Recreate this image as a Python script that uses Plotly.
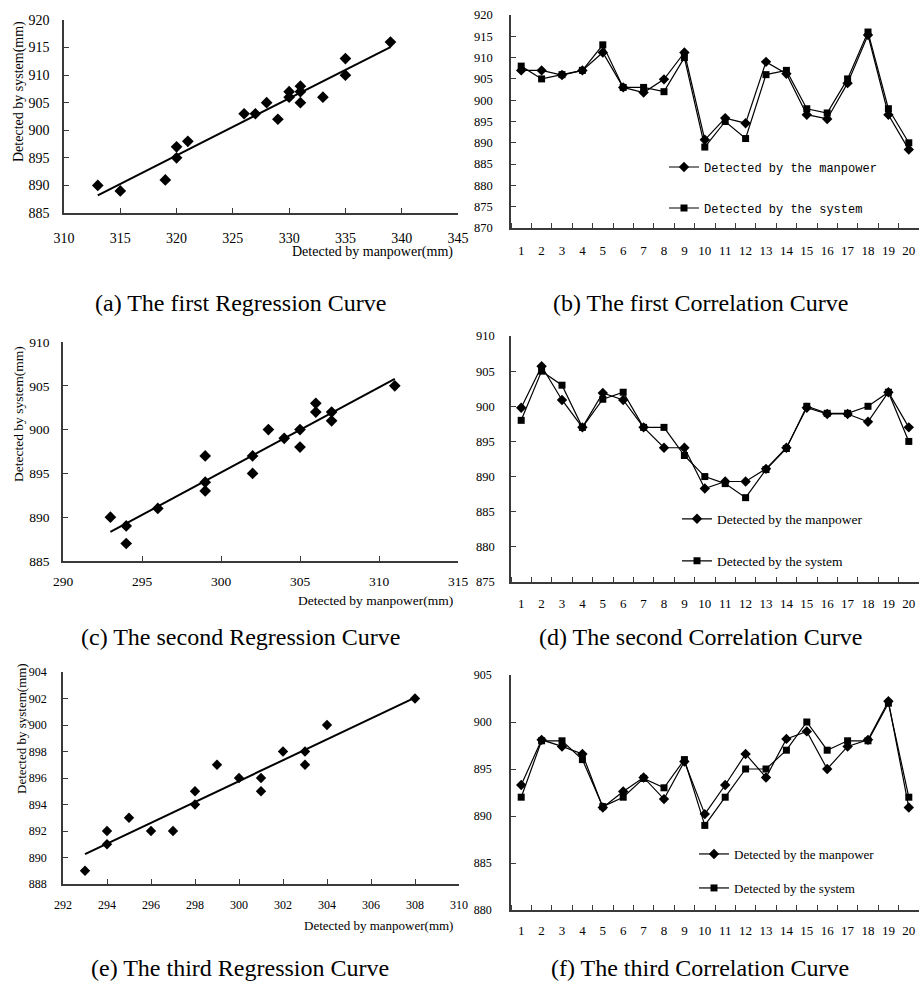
import numpy as np
import plotly.graph_objects as go

W, H = 919, 983
SERIF = "Liberation Serif"
MONO = "Liberation Mono"

# ---------------- data ----------------
categories = list(range(1, 21))

a_manpower = [313, 315, 319, 320, 320, 321, 326, 327, 328, 329, 330, 330, 331, 331, 331, 333, 335, 335, 339]
a_system = [890, 889, 891, 897, 895, 898, 903, 903, 905, 902, 907, 906, 908, 907, 905, 906, 913, 910, 916]

b_manpower = [907.0, 907.0, 905.9, 907.0, 911.2, 903.0, 901.8, 904.9, 911.2, 890.7,
              895.8, 894.6, 909.0, 906.2, 896.6, 895.6, 904.0, 915.3, 896.6, 888.4]
b_system = [908, 905, 906, 907, 913, 903, 903, 902, 910, 889,
            895, 891, 906, 907, 898, 897, 905, 916, 898, 890]

c_manpower = [293, 294, 294, 296, 299, 299, 299, 302, 302, 303, 304, 305, 305, 306, 306, 307, 307, 311]
c_system = [890, 889, 887, 891, 897, 894, 893, 897, 895, 900, 899, 900, 898, 903, 902, 902, 901, 905]

d_manpower = [899.8, 905.7, 900.9, 897.0, 901.9, 900.9, 897.0, 894.1, 894.1, 888.3,
              889.3, 889.3, 891.1, 894.1, 899.8, 898.9, 898.9, 897.8, 902.0, 897.0]
d_system = [898, 905, 903, 897, 901, 902, 897, 897, 893, 890,
            889, 887, 891, 894, 900, 899, 899, 900, 902, 895]

e_manpower = [293, 294, 294, 295, 296, 297, 298, 298, 299, 300, 301, 301, 302, 303, 303, 304, 308]
e_system = [889, 891, 892, 893, 892, 892, 894, 895, 897, 896, 896, 895, 898, 898, 897, 900, 902]

f_manpower = [893.3, 898.1, 897.4, 896.6, 890.9, 892.6, 894.1, 891.8, 895.8, 890.2,
              893.3, 896.6, 894.1, 898.2, 899.0, 895.0, 897.4, 898.1, 902.2, 890.9]
f_system = [892, 898, 898, 896, 891, 892, 894, 893, 896, 889,
            892, 895, 895, 897, 900, 897, 898, 898, 902, 892]

panel_titles = ["(a) The first Regression Curve", "(b) The first Correlation Curve",
                "(c) The second Regression Curve", "(d) The second Correlation Curve",
                "(e) The third Regression Curve", "(f) The third Correlation Curve"]
legend_names = ["Detected by the manpower", "Detected by the system"]
x_title = "Detected by manpower(mm)"
y_title = "Detected by system(mm)"

# ---------------- helpers ----------------
def xd(p0, p1):
    return [p0 / W, min(p1 / W, 1.0)]

def yd(top, bottom):
    return [1 - bottom / H, 1 - top / H]

def px(v):
    return v / W

def py(v):
    return 1 - v / H

AX = "#3a3a3a"
fig = go.Figure()

def regression(idx, xs, ys, msize=9):
    xa = "x" if idx == 1 else f"x{idx}"
    ya = "y" if idx == 1 else f"y{idx}"
    fig.add_trace(go.Scatter(x=xs, y=ys, mode="markers", xaxis=xa, yaxis=ya,
                             marker=dict(symbol="diamond", size=msize, color="black"),
                             showlegend=False, hoverinfo="x+y"))
    k, b = np.polyfit(xs, ys, 1)
    lx = [min(xs), max(xs)]
    fig.add_trace(go.Scatter(x=lx, y=[k * v + b for v in lx], mode="lines", xaxis=xa, yaxis=ya,
                             line=dict(color="black", width=2), showlegend=False, hoverinfo="skip"))

def correlation(idx, man, sysv, legs):
    xa = f"x{idx}"
    ya = f"y{idx}"
    fig.add_trace(go.Scatter(x=categories, y=man, mode="lines+markers", xaxis=xa, yaxis=ya,
                             name=legend_names[0], legend=legs[0],
                             line=dict(color="black", width=1.2),
                             marker=dict(symbol="diamond", size=8, color="black")))
    fig.add_trace(go.Scatter(x=categories, y=sysv, mode="lines+markers", xaxis=xa, yaxis=ya,
                             name=legend_names[1], legend=legs[1],
                             line=dict(color="black", width=1.2),
                             marker=dict(symbol="square", size=7, color="black")))

regression(1, a_manpower, a_system)
correlation(2, b_manpower, b_system, ["legend", "legend2"])
regression(3, c_manpower, c_system)
correlation(4, d_manpower, d_system, ["legend3", "legend4"])
regression(5, e_manpower, e_system, msize=8)
correlation(6, f_manpower, f_system, ["legend5", "legend6"])

def reg_axes(dx, dy, xr, yr, dtx, dty, fs, sx, sy, anchor_x, anchor_y):
    common = dict(showline=True, linecolor=AX, linewidth=1.5, ticks="inside", ticklen=5,
                  tickcolor=AX, tickwidth=1.2, showgrid=False, zeroline=False, automargin=False,
                  tickfont=dict(family=SERIF, size=fs, color="black"), fixedrange=True)
    xa = dict(domain=dx, range=xr, dtick=dtx, tick0=xr[0], anchor=anchor_y, ticklabelstandoff=sx, **common)
    ya = dict(domain=dy, range=yr, dtick=dty, tick0=yr[0], anchor=anchor_x, ticklabelstandoff=sy, **common)
    return xa, ya

def cor_axes(dx, dy, yr, dty, fsx, fsy, sx, sy, anchor_x, anchor_y):
    xa = dict(domain=dx, range=[0.5, 20.5], tickvals=categories, ticktext=[str(c) for c in categories],
              ticks="", anchor=anchor_y, showline=True, linecolor=AX, linewidth=1.5,
              showgrid=False, zeroline=False, automargin=False,
              minor=dict(tick0=0.5, dtick=1, ticks="inside", ticklen=5, tickcolor=AX, tickwidth=1.2,
                         showgrid=False),
              tickfont=dict(family=SERIF, size=fsx, color="black"), ticklabelstandoff=sx,
              fixedrange=True)
    ya = dict(domain=dy, range=yr, dtick=dty, tick0=yr[0], anchor=anchor_x,
              showline=True, linecolor=AX, linewidth=1.5, ticks="inside", ticklen=5,
              tickcolor=AX, tickwidth=1.2, showgrid=False, zeroline=False, automargin=False,
              tickfont=dict(family=SERIF, size=fsy, color="black"), ticklabelstandoff=sy,
              fixedrange=True)
    return xa, ya

lay = {}
lay["xaxis"], lay["yaxis"] = reg_axes(xd(64, 458), yd(20, 213), [310, 345], [885, 920], 5, 5, 14, 11, 10, "x", "y")
lay["xaxis2"], lay["yaxis2"] = cor_axes(xd(511, 919), yd(15, 228), [870, 920], 5, 13, 12.5, 10, 14, "x2", "y2")
lay["xaxis3"], lay["yaxis3"] = reg_axes(xd(63, 458), yd(342, 561), [290, 315], [885, 910], 5, 5, 13.5, 7, 9, "x3", "y3")
lay["xaxis4"], lay["yaxis4"] = cor_axes(xd(511, 919), yd(336, 582), [875, 910], 5, 13, 12.5, 9, 12, "x4", "y4")
lay["xaxis5"], lay["yaxis5"] = reg_axes(xd(63, 459), yd(672, 884), [292, 310], [888, 904], 2, 2, 12, 9, 12, "x5", "y5")
lay["xaxis6"], lay["yaxis6"] = cor_axes(xd(511, 919), yd(675, 910), [880, 905], 5, 13, 12, 8, 15, "x6", "y6")

def leg(xp, yp, family, size):
    return dict(x=px(xp), y=py(yp), xanchor="left", yanchor="middle", bgcolor="rgba(0,0,0,0)",
                borderwidth=0, font=dict(family=family, size=size, color="black"),
                itemwidth=30, tracegroupgap=0)

lay["legend"] = leg(664, 167, MONO, 12)
lay["legend2"] = leg(664, 208, MONO, 12)
lay["legend3"] = leg(677, 519, SERIF, 13.5)
lay["legend4"] = leg(677, 561, SERIF, 13.5)
lay["legend5"] = leg(694, 854, SERIF, 13)
lay["legend6"] = leg(694, 888, SERIF, 13)

ann = []
title_pos = [(240, 303), (700, 303), (240, 637), (700, 637), (240, 968), (700, 968)]
for t, (tx, ty) in zip(panel_titles, title_pos):
    ann.append(dict(text=t, x=px(tx), y=py(ty), xref="paper", yref="paper", showarrow=False,
                    xanchor="center", yanchor="middle", font=dict(family=SERIF, size=24, color="black")))
for (tx, ty, fs) in [(455, 252, 14), (455, 600, 13.5), (455, 925, 13)]:
    ann.append(dict(text=x_title, x=px(tx), y=py(ty), xref="paper", yref="paper", showarrow=False,
                    xanchor="right", yanchor="middle", font=dict(family=SERIF, size=fs, color="black")))
for (tx, ty, fs) in [(19, 92, 14), (18, 414, 13.5), (21, 729, 13)]:
    ann.append(dict(text=y_title, x=px(tx), y=py(ty), xref="paper", yref="paper", showarrow=False,
                    textangle=-90, xanchor="center", yanchor="middle",
                    font=dict(family=SERIF, size=fs, color="black")))

fig.update_layout(template="none", width=W, height=H,
                  margin=dict(l=0, r=0, t=0, b=0, pad=0, autoexpand=False),
                  paper_bgcolor="white", plot_bgcolor="white", annotations=ann,
                  font=dict(family=SERIF, color="black"), **lay)

fig.write_html("out.html", config={"displayModeBar": False},
               post_script="document.body.style.margin='0px';document.body.style.overflow='hidden';")
